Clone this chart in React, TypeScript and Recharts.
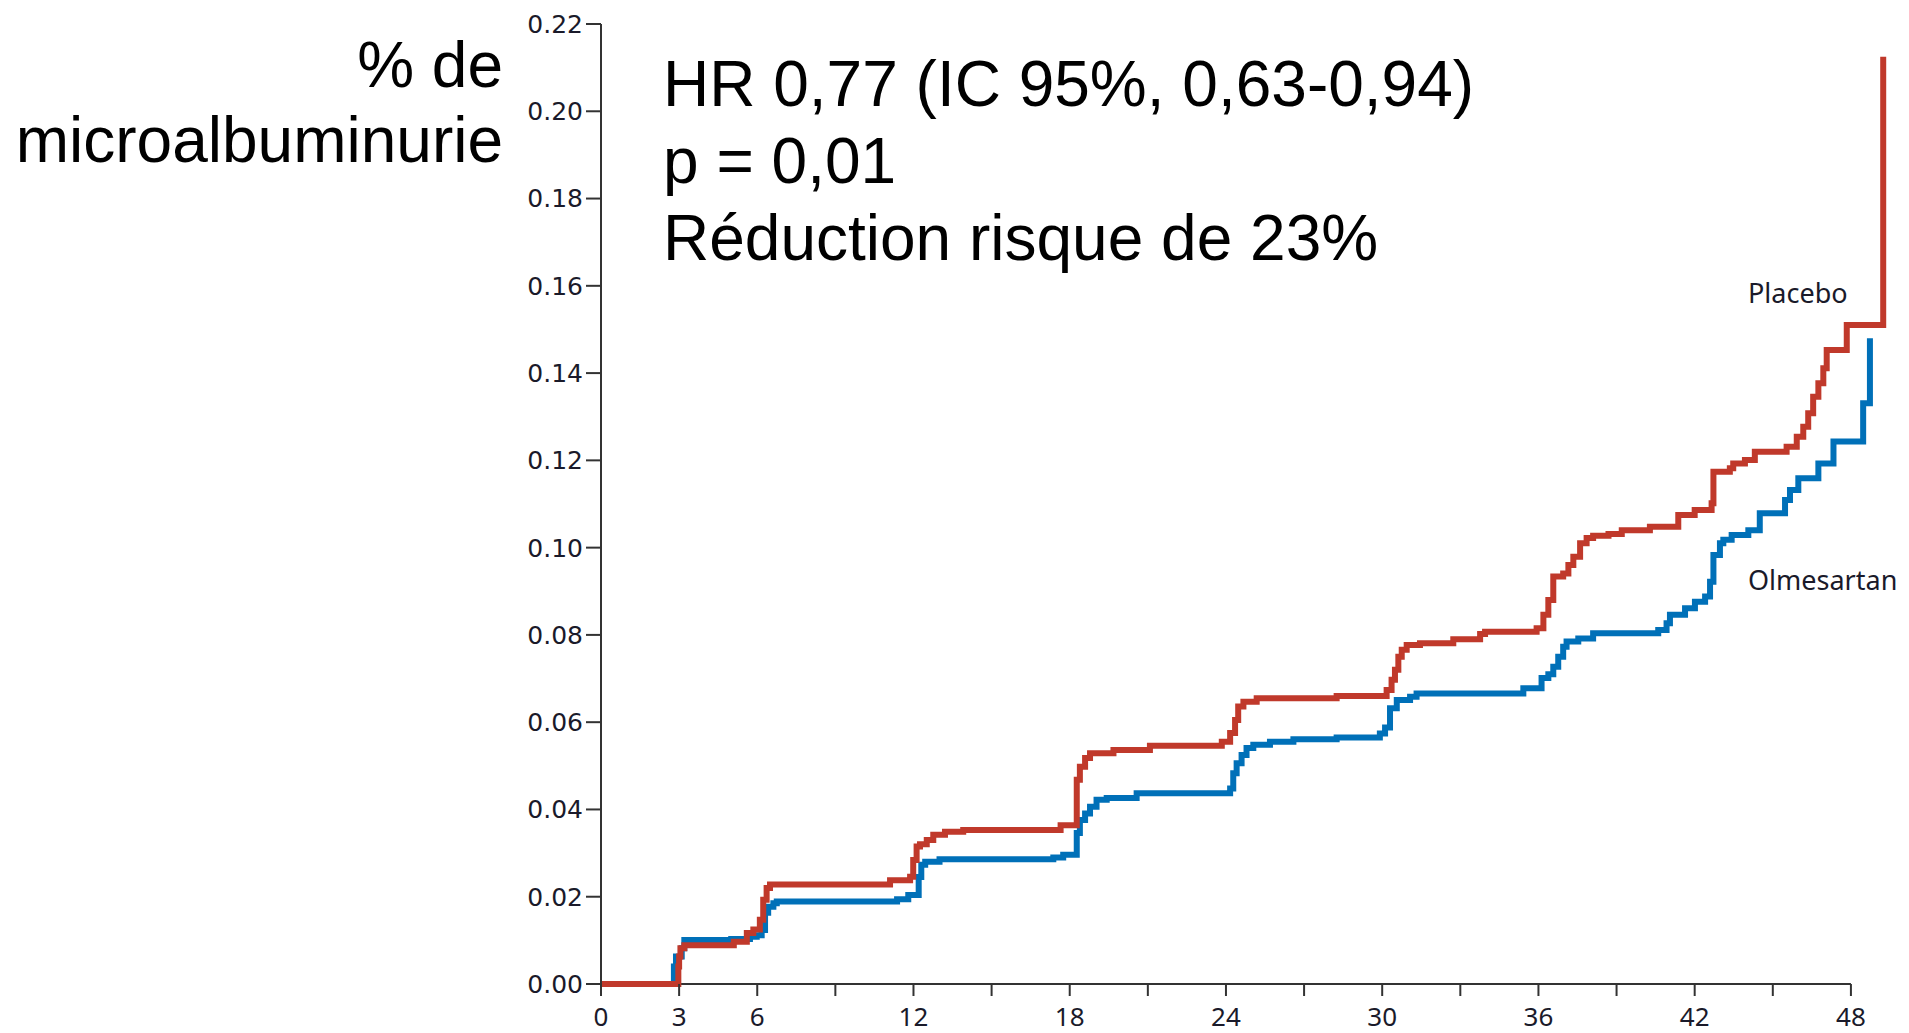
import React from 'react'
import { LineChart, Line, XAxis, YAxis, ReferenceLine } from 'recharts'

// months since randomisation / cumulative rate
const placeboMonths = [
  0, 2.97, 3.0, 3.05, 3.2, 5.1, 5.6, 5.85, 6.1, 6.23, 6.36, 6.49, 11.1, 11.87, 11.99, 12.12,
  12.25, 12.51, 12.76, 13.21, 13.91, 17.65, 18.27, 18.39, 18.59, 18.78, 19.68, 21.08, 23.84,
  24.16, 24.35, 24.47, 24.67, 25.18, 28.25, 30.17, 30.36, 30.49, 30.62, 30.75, 30.94, 31.45,
  32.73, 33.76, 33.95, 35.93, 36.19, 36.38, 36.57, 36.95, 37.15, 37.34, 37.6, 37.85, 38.1,
  38.69, 39.2, 40.28, 41.37, 42.0, 42.65, 42.72, 43.35, 43.48, 43.93, 44.31, 45.53, 45.92,
  46.17, 46.36, 46.55, 46.75, 46.94, 47.07, 47.84, 49.24
]
const placeboRisk = [
  0, 0.004, 0.0063, 0.0082, 0.0089, 0.0097, 0.0117, 0.0125, 0.0147, 0.0193, 0.022, 0.0228,
  0.0238, 0.0246, 0.0284, 0.0315, 0.032, 0.033, 0.0342, 0.0349, 0.0353, 0.0364, 0.0468, 0.0498,
  0.0518, 0.0529, 0.0536, 0.0546, 0.0555, 0.0575, 0.0605, 0.0636, 0.0647, 0.0655, 0.066, 0.0674,
  0.0697, 0.072, 0.075, 0.0766, 0.0777, 0.0781, 0.079, 0.0802, 0.0807, 0.0815, 0.0846, 0.088,
  0.0934, 0.0941, 0.096, 0.0979, 0.101, 0.1022, 0.1027, 0.1031, 0.104, 0.1048, 0.1075, 0.1086,
  0.1102, 0.1174, 0.1182, 0.1193, 0.1201, 0.122, 0.1231, 0.1254, 0.1277, 0.1308, 0.1346, 0.1377,
  0.1411, 0.1453, 0.151, 0.2125
]

const olmesartanMonths = [
  0, 2.8, 2.88, 3.1, 3.2, 5.0, 5.72, 5.98, 6.17, 6.3, 6.42, 6.62, 6.75, 11.37, 11.8, 12.2,
  12.3, 12.45, 13.0, 17.37, 17.75, 18.27, 18.39, 18.59, 18.78, 19.03, 19.42, 20.57, 24.16,
  24.28, 24.41, 24.6, 24.79, 25.05, 25.69, 26.59, 28.25, 29.91, 30.11, 30.3, 30.56, 31.07,
  31.32, 35.42, 36.12, 36.38, 36.57, 36.76, 36.95, 37.08, 37.53, 38.1, 40.6, 40.92, 41.05,
  41.63, 42.01, 42.4, 42.59, 42.72, 42.97, 43.1, 43.42, 44.06, 44.5, 45.47, 45.66, 45.98,
  46.75, 47.33, 48.47, 48.73
]
const olmesartanRisk = [
  0, 0.004, 0.0063, 0.0082, 0.0101, 0.0103, 0.0108, 0.0112, 0.0124, 0.0163, 0.0177, 0.0185,
  0.0189, 0.0194, 0.0204, 0.0245, 0.0273, 0.028, 0.0286, 0.029, 0.0296, 0.0346, 0.0376, 0.0391,
  0.0406, 0.0422, 0.0426, 0.0437, 0.0448, 0.0483, 0.0506, 0.0525, 0.0541, 0.0548, 0.0555,
  0.0561, 0.0565, 0.0574, 0.0588, 0.0632, 0.0651, 0.0658, 0.0666, 0.0678, 0.0701, 0.071,
  0.0727, 0.075, 0.0773, 0.0785, 0.0792, 0.0804, 0.0811, 0.0827, 0.0846, 0.0861, 0.0876,
  0.0888, 0.0922, 0.0983, 0.101, 0.1018, 0.1029, 0.104, 0.1079, 0.1109, 0.1132, 0.1159, 0.1193,
  0.1243, 0.1331, 0.148
]

const xTicks = [0, 3, 6, 9, 12, 15, 18, 21, 24, 27, 30, 33, 36, 39, 42, 45, 48]
const xTickLabels = ['0', '3', '6', '', '12', '', '18', '', '24', '', '30', '', '36', '', '42', '', '48']
const yTicks = [0, 0.02, 0.04, 0.06, 0.08, 0.1, 0.12, 0.14, 0.16, 0.18, 0.2, 0.22]

const statLines = ['HR 0,77 (IC 95%, 0,63-0,94)', 'p = 0,01', 'Réduction risque de 23%']
const yTitleLines = ['% de', 'microalbuminurie']

const toPoints = (months: number[], risk: number[]) =>
  months.map((t, i) => ({ t, v: risk[i] }))

const placebo = toPoints(placeboMonths, placeboRisk)
const olmesartan = toPoints(olmesartanMonths, olmesartanRisk)

const RED = '#C0392B'
const BLUE = '#0070B8'
const AXIS = '#333'

const W = 1905
const H = 1033

export default function App() {
  return (
    <div style={{ position: 'absolute', left: 0, top: 0, width: W, height: H, overflow: 'hidden', background: '#fff' }}>
      <LineChart width={W} height={H} margin={{ top: 24, right: 2, left: 0, bottom: 0 }}>
        <XAxis
          type="number"
          dataKey="t"
          domain={[0, 50]}
          ticks={xTicks}
          interval={0}
          height={49}
          axisLine={false}
          tickLine={{ stroke: AXIS, strokeWidth: 2 }}
          tickSize={12}
          tickMargin={12}
          tickFormatter={(v: number) => xTickLabels[xTicks.indexOf(v)] ?? ''}
          tick={{ fontSize: 26, fill: '#1a1a2a', fontFamily: 'Noto Sans' }}
        />
        <YAxis
          type="number"
          domain={[0, 0.22]}
          ticks={yTicks}
          interval={0}
          width={601}
          axisLine={{ stroke: AXIS, strokeWidth: 2 }}
          tickLine={{ stroke: AXIS, strokeWidth: 2 }}
          tickSize={15}
          tickMargin={3}
          tickFormatter={(v: number) => v.toFixed(2)}
          tick={{ fontSize: 25, fill: '#1a1a2a', fontFamily: 'DejaVu Sans' }}
        />
        <ReferenceLine
          segment={[{ x: 0, y: 0 }, { x: 48, y: 0 }]}
          stroke={AXIS}
          strokeWidth={2}
        />
        <Line
          data={olmesartan}
          dataKey="v"
          type="stepAfter"
          stroke={BLUE}
          strokeWidth={6}
          dot={false}
          isAnimationActive={false}
        />
        <Line
          data={placebo}
          dataKey="v"
          type="stepAfter"
          stroke={RED}
          strokeWidth={6}
          dot={false}
          isAnimationActive={false}
        />
      </LineChart>
      <svg
        width={W}
        height={H}
        style={{ position: 'absolute', left: 0, top: 0, pointerEvents: 'none' }}
      >
        <g fontFamily="Liberation Sans, Arial, sans-serif" fontSize={64} fill="#000">
          {yTitleLines.map((s, i) => (
            <text key={s} x={503} y={87 + i * 75} textAnchor="end">{s}</text>
          ))}
          {statLines.map((s, i) => (
            <text key={s} x={663} y={106 + i * 77}>{s}</text>
          ))}
        </g>
        <g fontFamily="Noto Sans" fontSize={27} fill="#1a1a2a">
          <text x={1748} y={303}>Placebo</text>
          <text x={1748} y={590}>Olmesartan</text>
        </g>
      </svg>
    </div>
  )
}
